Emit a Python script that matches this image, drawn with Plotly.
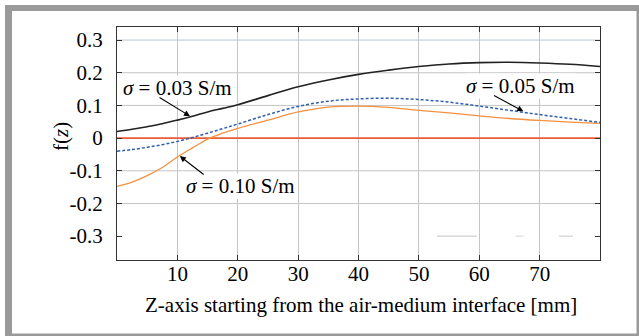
import plotly.graph_objects as go

# ---- data ----
z_mm = [0, 2.5, 5, 7.5, 10, 12.5, 15, 17.5, 20, 25, 30, 35, 40, 45, 50, 55, 60, 65, 70, 75, 80]
f_003 = [0.020, 0.027, 0.035, 0.044, 0.055, 0.067, 0.080, 0.091, 0.102, 0.130, 0.157, 0.178, 0.195,
         0.208, 0.219, 0.227, 0.231, 0.232, 0.230, 0.226, 0.219]
f_005 = [-0.040, -0.035, -0.028, -0.020, -0.010, 0.002, 0.015, 0.029, 0.043, 0.072, 0.097, 0.113, 0.120,
         0.122, 0.118, 0.110, 0.098, 0.085, 0.072, 0.060, 0.048]
f_010 = [-0.148, -0.135, -0.115, -0.090, -0.058, -0.030, -0.003, 0.015, 0.030, 0.055, 0.080, 0.095, 0.098,
         0.094, 0.085, 0.077, 0.068, 0.060, 0.054, 0.049, 0.045]
f_zero = [0.0] * len(z_mm)

x_ticks = [10, 20, 30, 40, 50, 60, 70]
y_ticks = [0.3, 0.2, 0.1, 0, -0.1, -0.2, -0.3]
y_ticktext = ["0.3", "0.2", "0.1", "0", "-0.1", "-0.2", "-0.3"]
y_grid = [0.3, 0.2, 0.1, -0.1, -0.2]

labels = ["<i>σ</i> = 0.03 S/m", "<i>σ</i> = 0.05 S/m", "<i>σ</i> = 0.10 S/m"]
label_pos = [(10.1, 0.152), (66.8, 0.158), (20.4, -0.148)]
arrow_tail = [(6.8, 0.127), (62.2, 0.133), (14.6, -0.115)]
arrow_head = [(12.1, 0.067), (67.3, 0.082), (10.4, -0.055)]

FONT = "Liberation Serif"
W, H = 639, 336
ML, MR, MT, MB = 117, 39, 27, 76
PW, PH = W - ML - MR, H - MT - MB


def px_x(p):
    return (p - ML) / PW


def px_y(p):
    return (H - MB - p) / PH


fig = go.Figure()
fig.add_trace(go.Scatter(x=z_mm, y=f_zero, mode="lines",
                         line=dict(color="#ec5a3c", width=1.6), hoverinfo="skip"))
fig.add_trace(go.Scatter(x=z_mm, y=f_010, mode="lines", line_shape="spline",
                         line=dict(color="#f39140", width=1.3)))
fig.add_trace(go.Scatter(x=z_mm, y=f_005, mode="lines", line_shape="spline",
                         line=dict(color="#2f5fae", width=1.5, dash="3px,2px")))
fig.add_trace(go.Scatter(x=z_mm, y=f_003, mode="lines", line_shape="spline",
                         line=dict(color="#222222", width=1.6)))

shapes = []
# grey frame around the figure
shapes.append(dict(type="rect", xref="paper", yref="paper", layer="below",
                   x0=px_x(5), x1=px_x(W + 5), y0=px_y(H + 5), y1=px_y(5),
                   fillcolor="#9a9a9a", line=dict(width=0)))
shapes.append(dict(type="rect", xref="paper", yref="paper", layer="below",
                   x0=px_x(12), x1=px_x(636.5), y0=px_y(333.5), y1=px_y(11),
                   fillcolor="white", line=dict(width=0)))
for g in y_grid:
    shapes.append(dict(type="line", xref="paper", yref="y", layer="below",
                       x0=0, x1=1, y0=g, y1=g,
                       line=dict(color="#b9c9d3" if g == 0.3 else "#c4c4c4", width=1)))
# faint remnant of the -0.3 grid line
shapes.append(dict(type="line", xref="x", yref="y", layer="below", x0=53, x1=59.6, y0=-0.3, y1=-0.3,
                   line=dict(color="#c4c4c4", width=1)))
shapes.append(dict(type="line", xref="x", yref="y", layer="below", x0=66.0, x1=67.3, y0=-0.3, y1=-0.3,
                   line=dict(color="#d4d4d4", width=1)))
shapes.append(dict(type="line", xref="x", yref="y", layer="below", x0=73.2, x1=75.5, y0=-0.3, y1=-0.3,
                   line=dict(color="#c8c8c8", width=1)))

annotations = []
for t, (lx, ly) in zip(labels, label_pos):
    annotations.append(dict(x=lx, y=ly, xref="x", yref="y", text=t, showarrow=False,
                            xanchor="center", yanchor="middle",
                            bgcolor="white", borderpad=0,
                            font=dict(family=FONT, size=21, color="black")))
for (tx, ty), (hx, hy) in zip(arrow_tail, arrow_head):
    annotations.append(dict(x=hx, y=hy, ax=tx, ay=ty, xref="x", yref="y", axref="x", ayref="y",
                            text="", showarrow=True, arrowhead=2, arrowsize=1.1, arrowwidth=1.1,
                            arrowcolor="black", standoff=0, startstandoff=0))
annotations.append(dict(x=px_x(61), y=px_y(137), xref="paper", yref="paper", textangle=-90,
                        xanchor="center", yanchor="middle",
                        text="f(<i>z</i>)", showarrow=False,
                        font=dict(family=FONT, size=21, color="black")))
annotations.append(dict(x=px_x(361), y=px_y(305), xref="paper", yref="paper",
                        xanchor="center", yanchor="middle",
                        text="Z-axis starting from the air-medium interface [mm]", showarrow=False,
                        font=dict(family=FONT, size=21, color="black")))

fig.update_layout(
    width=W, height=H,
    margin=dict(l=ML, r=MR, t=MT, b=MB, pad=0),
    paper_bgcolor="white", plot_bgcolor="rgba(0,0,0,0)",
    showlegend=False,
    shapes=shapes, annotations=annotations,
    font=dict(family=FONT, size=21, color="black"),
)
fig.update_xaxes(range=[0, 80], tickvals=x_ticks, ticks="inside", ticklen=5, tickcolor="#333",
                 showline=True, linecolor="#333", linewidth=1, mirror="ticks",
                 showgrid=True, gridcolor="#c4c4c4", gridwidth=1, zeroline=False,
                 ticklabelstandoff=-5, tickfont=dict(family=FONT, size=21))
fig.update_yaxes(range=[-0.373, 0.34], tickvals=y_ticks, ticktext=y_ticktext,
                 ticks="inside", ticklen=5, tickcolor="#333",
                 showline=True, linecolor="#333", linewidth=1, mirror="ticks",
                 showgrid=False, zeroline=False,
                 ticklabelstandoff=9, tickfont=dict(family=FONT, size=21))

fig.write_html("out.html", config={"displayModeBar": False},
               post_script="document.body.style.margin='0px';")
